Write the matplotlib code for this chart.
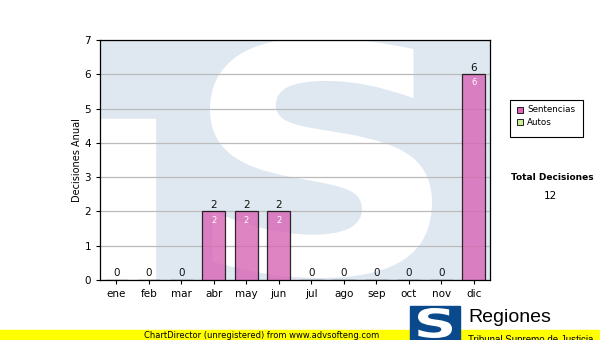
import matplotlib
matplotlib.use("Agg")
import matplotlib.pyplot as plt
from matplotlib.patches import Rectangle, PathPatch
from matplotlib.textpath import TextPath
from matplotlib.font_manager import FontProperties
from matplotlib.transforms import Affine2D
import numpy as np

meses = ['ene', 'feb', 'mar', 'abr', 'may', 'jun', 'jul', 'ago', 'sep', 'oct', 'nov', 'dic']
sentencias = [0, 0, 0, 2, 2, 2, 0, 0, 0, 0, 0, 6]
autos = [0, 0, 0, 0, 0, 0, 0, 0, 0, 0, 0, 0]
total = sum(sentencias) + sum(autos)

plt.rcParams['font.family'] = ['DejaVu Sans']


def letra_s(x0, x1, y0, y1, familia='DejaVu Sans'):
    # "S" en negrita ajustada a una caja
    tp = TextPath((0, 0), 'S', size=1, prop=FontProperties(family=familia, weight='bold'))
    ext = tp.get_extents()
    t = Affine2D().translate(-ext.x0, -ext.y0).scale((x1 - x0) / ext.width, (y1 - y0) / ext.height).translate(x0, y0)
    return t.transform_path(tp)


fig = plt.figure(figsize=(6, 3.4), dpi=100)
ax = fig.add_axes([100/600, 60/340, 390/600, 240/340])

# fondo con la marca de agua
ax.add_patch(Rectangle((0, 0), 1, 1, transform=ax.transAxes, color='#DFE8F1', zorder=0))
ax.add_patch(Rectangle((0, 0), 55/390, 161/240, transform=ax.transAxes, color='white', zorder=0))
s_path = letra_s(110/390, 332/390, 2/240, 1.01)
ax.add_patch(PathPatch(s_path, transform=ax.transAxes, facecolor='white', edgecolor='none',
                       zorder=0, clip_on=True))

x = np.arange(len(meses))
ax.bar(x, sentencias, width=0.72, color='#D865B5', alpha=0.8, edgecolor='black', linewidth=0.9, zorder=3)

for xi, v in zip(x, sentencias):
    ax.text(xi, v + 0.05, str(v), ha='center', va='bottom', fontsize=7.5, color='#111111', zorder=4)
    if v > 0:
        ax.text(xi, v - 0.12, str(v), ha='center', va='top', fontsize=6, color='white', zorder=4)

ax.set_xlim(-0.5, 11.5)
ax.set_ylim(0, 7)
ax.set_yticks(range(8))
ax.set_xticks(x)
ax.set_xticklabels(meses)
ax.tick_params(axis='both', labelsize=7.5, length=3, width=0.8)
ax.yaxis.grid(True, color='#BBBBBB', linewidth=0.9, zorder=1)
ax.set_axisbelow(True)
for s in ax.spines.values():
    s.set_linewidth(0.9)
ax.set_ylabel('Decisiones Anual', fontsize=7, labelpad=2)

# leyenda
fig.patches.append(Rectangle((510/600, 1 - 137/340), 73/600, 37/340, transform=fig.transFigure,
                             facecolor='white', edgecolor='black', linewidth=0.8))
fig.patches.append(Rectangle((517/600, 1 - 113/340), 6/600, 6/340, transform=fig.transFigure,
                             facecolor='#DD66BB', edgecolor='black', linewidth=0.6))
fig.patches.append(Rectangle((517/600, 1 - 125/340), 6/600, 6/340, transform=fig.transFigure,
                             facecolor='#CCEE99', edgecolor='black', linewidth=0.6))
fig.text(527/600, 1 - 110/340, 'Sentencias', fontsize=6.3, va='center')
fig.text(527/600, 1 - 122/340, 'Autos', fontsize=6.3, va='center')

fig.text(552/600, 1 - 177/340, 'Total Decisiones', fontsize=6.5, weight='bold', ha='center', va='center')
fig.text(550/600, 1 - 196/340, str(total), fontsize=7.5, ha='center', va='center')

# banda inferior
fig.patches.append(Rectangle((0, 0), 1, 10/340, transform=fig.transFigure, color='#FFFF00'))
fig.text(262/600, 5/340, 'ChartDirector (unregistered) from www.advsofteng.com', fontsize=6,
         ha='center', va='center')

# logo
fig.patches.append(Rectangle((410/600, 0), 50/600, 34/340, transform=fig.transFigure, color='#0A4A8C'))
logo_s = letra_s(418/600, 452/600, 2/340, 32/340)
fig.patches.append(PathPatch(logo_s, transform=fig.transFigure, facecolor='white', edgecolor='none'))
fig.text(468/600, 1 - 322/340, 'Regiones', family='Liberation Sans', fontsize=14, va='baseline')
fig.text(468/600, 1 - 343/340, 'Tribunal Supremo de Justicia', family='Liberation Sans', fontsize=7, va='baseline')

fig.savefig('out.png', dpi=100)
